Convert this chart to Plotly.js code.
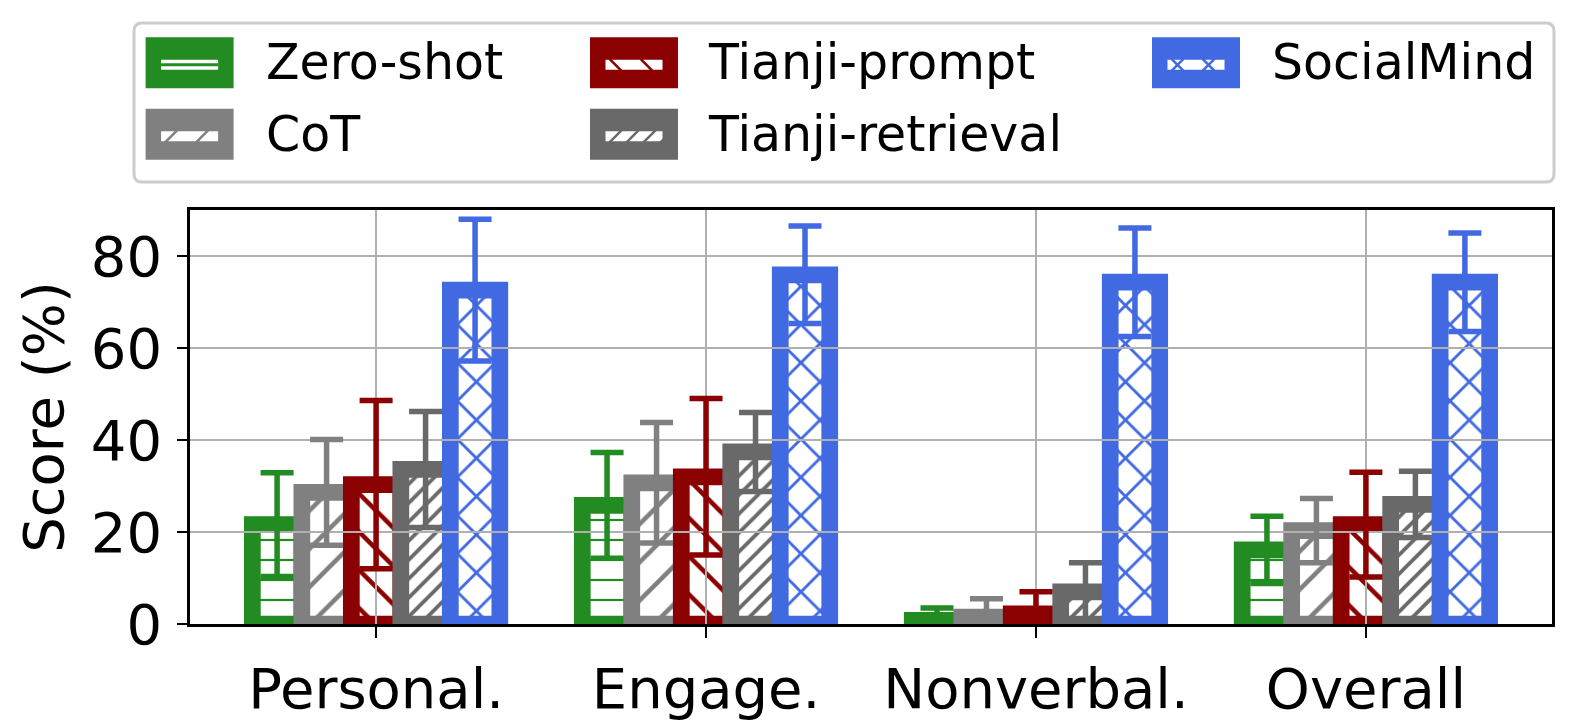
<!DOCTYPE html>
<html><head><meta charset="utf-8">
<script src="https://cdn.plot.ly/plotly-3.0.1.min.js"></script>
<style>html,body{margin:0;padding:0;background:#fff}#chart{width:1577px;height:728px}</style>
</head><body><div id="chart"></div>
<script>
// ---- data ----
const categories = ['Personal.', 'Engage.', 'Nonverbal.', 'Overall'];
const seriesNames = ['Zero-shot', 'CoT', 'Tianji-prompt', 'Tianji-retrieval', 'SocialMind'];
const zeroShot = [21.6, 25.8, 0.8, 16.1];
const zeroShotErr = [11.3, 11.5, 2.7, 7.3];
const cot = [28.6, 30.7, 1.5, 20.3];
const cotErr = [11.5, 13.1, 4.0, 7.0];
const tianjiPrompt = [30.3, 32.0, 2.2, 21.6];
const tianjiPromptErr = [18.3, 17.0, 4.8, 11.4];
const tianjiRetrieval = [33.6, 37.4, 7.0, 26.0];
const tianjiRetrievalErr = [12.6, 8.6, 6.3, 7.2];
const socialMind = [72.6, 75.9, 74.3, 74.3];
const socialMindErr = [15.4, 10.6, 11.8, 10.7];
const yTicks = [0, 20, 40, 60, 80];

// ---- styles ----
const values = [zeroShot, cot, tianjiPrompt, tianjiRetrieval, socialMind];
const errors = [zeroShotErr, cotErr, tianjiPromptErr, tianjiRetrievalErr, socialMindErr];
const colors = ['#228B22', '#808080', '#8B0000', '#696969', '#4169E1'];
const patterns = [
  {shape: '-', size: 20, solidity: 0.11},
  {shape: '/', size: 27, solidity: 0.17},
  {shape: '\\', size: 27, solidity: 0.17},
  {shape: '/', size: 13.4, solidity: 0.28},
  {shape: 'x', size: 27, solidity: 0.2}
];
const FONT = 'DejaVu Sans, Liberation Sans, sans-serif';
const GRID = '#b0b0b0';
const X_RANGE = [-0.564, 3.564];
const Y_RANGE = [0, 90];

// bars (subplot 1)
const barTraces = seriesNames.map((name, i) => ({
  type: 'bar', name: name, x: categories, y: values[i],
  xaxis: 'x', yaxis: 'y', showlegend: false, hoverinfo: 'skip',
  marker: {
    color: 'white',
    line: {color: colors[i], width: 16.7},
    pattern: {shape: patterns[i].shape, size: patterns[i].size, solidity: patterns[i].solidity,
              fgcolor: colors[i], bgcolor: 'white', fillmode: 'replace'}
  }
}));
// error bars (subplot 2, drawn above the gridlines which are above the bars)
const errTraces = seriesNames.map((name, i) => ({
  type: 'bar', name: name + ' error', x: categories, y: values[i],
  xaxis: 'x2', yaxis: 'y2', showlegend: false, hoverinfo: 'skip',
  marker: {color: 'rgba(0,0,0,0)', line: {width: 0}},
  error_y: {type: 'data', array: errors[i], symmetric: true, visible: true,
            color: colors[i], thickness: 5.5, width: 16.5}
}));

// ---- layout geometry (pixels) ----
const W = 1577, H = 728;
const PL = 190, PR = 1552, PT = 210, PB = 624;
const px2x = p => (p - PL) / (PR - PL);
const py2y = p => (PB - p) / (PB - PT);

const shapes = [];
const annotations = [];

// legend box (rounded)
(function () {
  const x0 = 134, x1 = 1554, y0 = 23, y1 = 182, r = 8;
  const X = px2x, Y = py2y;
  const d = `M${X(x0 + r)},${Y(y0)} L${X(x1 - r)},${Y(y0)} Q${X(x1)},${Y(y0)} ${X(x1)},${Y(y0 + r)} ` +
            `L${X(x1)},${Y(y1 - r)} Q${X(x1)},${Y(y1)} ${X(x1 - r)},${Y(y1)} ` +
            `L${X(x0 + r)},${Y(y1)} Q${X(x0)},${Y(y1)} ${X(x0)},${Y(y1 - r)} ` +
            `L${X(x0)},${Y(y0 + r)} Q${X(x0)},${Y(y0)} ${X(x0 + r)},${Y(y0)} Z`;
  shapes.push({type: 'path', xref: 'paper', yref: 'paper', path: d,
               line: {color: '#cccccc', width: 3}, fillcolor: 'white', layer: 'above'});
})();

const colPatch = [145.6, 590, 1152];
const colText = [264, 706, 1270];
const rowCenter = [62.8, 134.3];
const patchW = 88, patchH = 51, innerW = 57, innerH = 10;

function pxRect(x0, y0, x1, y1, fill) {
  shapes.push({type: 'rect', xref: 'paper', yref: 'paper', x0: px2x(x0), x1: px2x(x1),
               y0: py2y(y1), y1: py2y(y0), fillcolor: fill, line: {width: 0}, layer: 'above'});
}
function pxLine(x0, y0, x1, y1, color, w) {
  shapes.push({type: 'line', xref: 'paper', yref: 'paper', x0: px2x(x0), x1: px2x(x1),
               y0: py2y(y0), y1: py2y(y1), line: {color: color, width: w}, layer: 'above'});
}

seriesNames.forEach((name, i) => {
  const col = Math.floor(i / 2), row = i % 2;
  const left = colPatch[col], cy = rowCenter[row];
  const top = cy - patchH / 2;
  const c = colors[i];
  pxRect(left, top, left + patchW, top + patchH, c);
  const ix0 = left + (patchW - innerW) / 2, ix1 = ix0 + innerW;
  const iy0 = cy + 2 - innerH / 2, iy1 = iy0 + innerH;
  pxRect(ix0, iy0, ix1, iy1, 'white');
  const sh = patterns[i].shape;
  if (sh === '-') {
    pxLine(ix0, (iy0 + iy1) / 2, ix1, (iy0 + iy1) / 2, c, 3);
  } else {
    const step = (i === 3) ? 17 : 31;
    for (let xs = ix0 + 10; xs < ix1 + 6; xs += step) {
      if (sh === '/' || sh === 'x') pxLine(xs - 6, iy1 + 1, xs + 6, iy0 - 1, c, 2.5);
      if (sh === '\\' || sh === 'x') pxLine(xs - 6, iy0 - 1, xs + 6, iy1 + 1, c, 2.5);
    }
  }
  annotations.push({xref: 'paper', yref: 'paper', x: px2x(colText[col]), y: py2y(cy),
                    xanchor: 'left', yanchor: 'middle', showarrow: false, text: name,
                    font: {family: FONT, size: 49, color: 'black'}});
});

const layout = {
  width: W, height: H,
  margin: {l: PL, r: W - PR, t: PT, b: H - PB, pad: 0},
  paper_bgcolor: 'white', plot_bgcolor: 'rgba(0,0,0,0)',
  font: {family: FONT, color: 'black'},
  barmode: 'group', bargap: 0.25, bargroupgap: 0,
  xaxis: {
    type: 'category', range: X_RANGE, domain: [0, 1], anchor: 'y',
    showgrid: false, zeroline: false,
    showline: true, mirror: true, linecolor: 'black', linewidth: 2.7,
    ticks: 'outside', ticklen: 11, tickwidth: 2.7, tickcolor: 'black',
    ticklabelstandoff: 3,
    tickfont: {family: FONT, size: 56, color: 'black'}
  },
  yaxis: {
    range: Y_RANGE, domain: [0, 1], anchor: 'x',
    tickvals: yTicks, ticktext: yTicks.map(String), showgrid: false, zeroline: false,
    showline: true, mirror: true, linecolor: 'black', linewidth: 2.7,
    ticks: 'outside', ticklen: 10, tickwidth: 2.7, tickcolor: 'black',
    ticklabelstandoff: 4,
    tickfont: {family: FONT, size: 56, color: 'black'},
    title: {text: 'Score (%)', font: {family: FONT, size: 56, color: 'black'}, standoff: 10}
  },
  xaxis2: {
    type: 'category', range: X_RANGE, domain: [0, 1], anchor: 'y2',
    showgrid: true, gridcolor: GRID, gridwidth: 2.7, zeroline: false,
    showline: false, ticks: '', showticklabels: false
  },
  yaxis2: {
    range: Y_RANGE, domain: [0, 1], anchor: 'x2',
    tickvals: yTicks.filter(v => v > 0), showgrid: true, gridcolor: GRID, gridwidth: 2.7,
    zeroline: false, showline: false, ticks: '', showticklabels: false
  },
  shapes: shapes,
  annotations: annotations
};

Plotly.newPlot('chart', barTraces.concat(errTraces), layout, {displayModeBar: false, staticPlot: true});
</script>
</body></html>
